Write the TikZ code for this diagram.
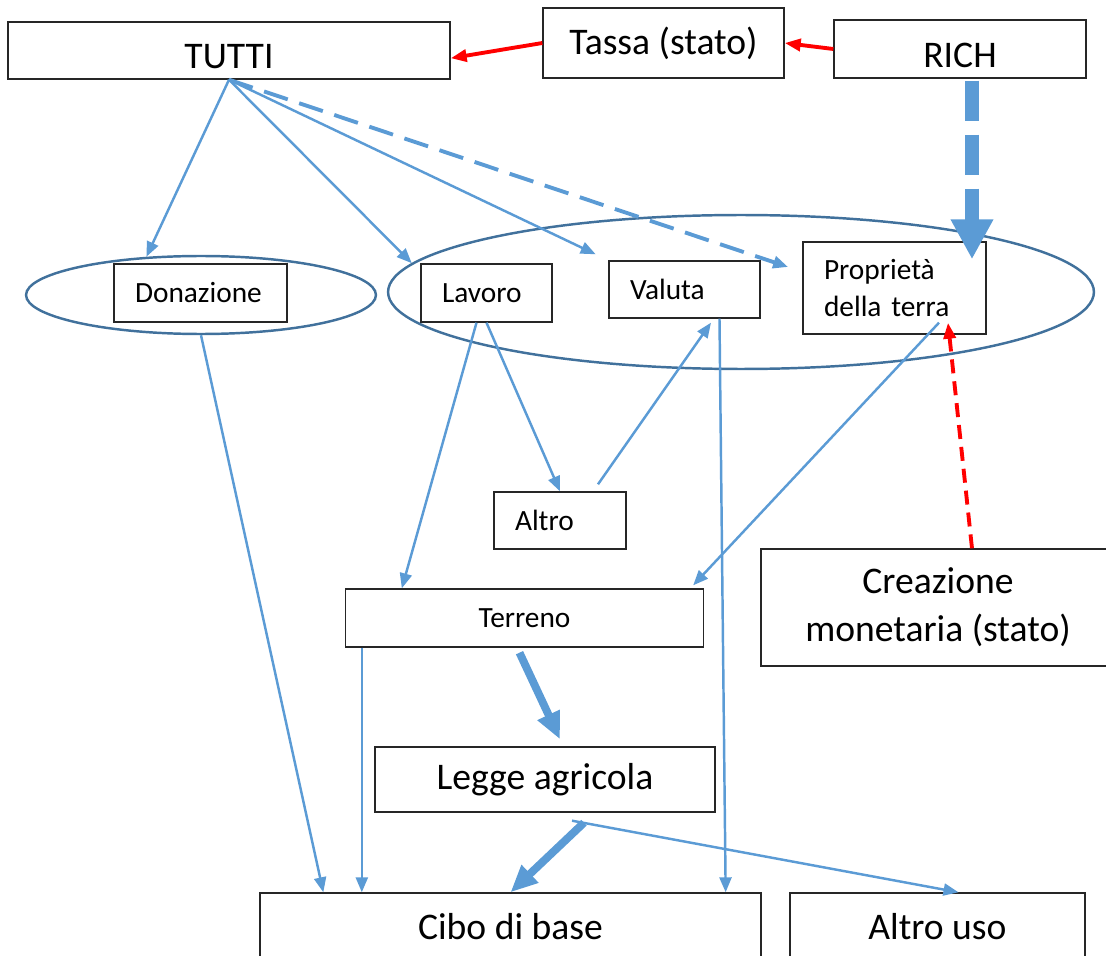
\documentclass[tikz,border=0pt]{standalone}
\usepackage{fontspec}
\setmainfont{Carlito}
\usetikzlibrary{arrows.meta,shapes.geometric}
\definecolor{flowblue}{RGB}{91,155,213}
\definecolor{ringblue}{RGB}{65,113,156}
\definecolor{flowred}{RGB}{255,0,0}

\begin{document}
\begin{tikzpicture}[x=0.02cm, y=-0.02cm,
    bigbox/.style={draw=black!85, line width=0.8pt, font=\fontsize{21.4}{27.3}\selectfont, align=center, inner sep=0pt},
    smallbox/.style={draw=black!85, line width=0.8pt, font=\fontsize{16.7}{21.6}\selectfont, align=left, inner xsep=0.42cm, inner ysep=0pt},
    lowtext/.style={text height=20.5pt, text depth=0pt},
    ring/.style={ellipse, draw=ringblue, line width=1.4pt, inner sep=0pt},
    flow/.style={draw=flowblue, line width=1.4pt, -{Triangle[length=0.3cm,width=0.24cm]}},
    flowdash/.style={flow, line width=2.2pt, dash pattern=on 0.5cm off 0.24cm},
    bigflow/.style={draw=flowblue, line width=4.5pt, -{Triangle[length=0.54cm,width=0.46cm]}},
    richflow/.style={draw=flowblue, line width=8pt, dash pattern=on 0.8cm off 0.28cm, -{Triangle[length=0.8cm,width=0.8cm]}},
    tax/.style={draw=flowred, line width=2.2pt, -{Triangle[length=0.32cm,width=0.24cm]}},
    taxdash/.style={tax, dash pattern=on 0.28cm off 0.16cm}]

    \useasboundingbox (0,0) rectangle (1106,956);

    % groups
    \node[ring, minimum width=7cm, minimum height=1.56cm] (grpdon) at (201,295) {};
    \node[ring, minimum width=14.12cm, minimum height=3.08cm] (grpbig) at (741,292) {};

    % top row
    \node[bigbox, lowtext, minimum width=8.84cm, minimum height=1.14cm] (tutti) at (229,50.5) {TUTTI};
    \node[bigbox, minimum width=4.82cm, minimum height=1.4cm] (tassa) at (663.5,43) {Tassa (stato)};
    \node[bigbox, lowtext, minimum width=5.04cm, minimum height=1.16cm] (rich) at (960,49) {RICH};

    % inside the groups
    \node[smallbox, text width=2.62cm, minimum height=1.16cm] (donaz) at (200.5,293) {Donazione};
    \node[smallbox, text width=1.78cm, minimum height=1.16cm] (lavoro) at (486.5,293) {Lavoro};
    \node[smallbox, text width=2.18cm, minimum height=1.14cm] (valuta) at (684.5,289.5) {Valuta};
    \node[smallbox, text width=2.82cm, minimum height=1.84cm] (prop) at (894.5,288) {Proprietà\\della terra};

    % middle
    \node[smallbox, text width=1.8cm, minimum height=1.14cm] (altro) at (560,520.5) {Altro};
    \node[smallbox, align=center, text width=6.32cm, minimum height=1.16cm] (terreno) at (524.5,618) {Terreno};
    \node[bigbox, minimum width=7.08cm, minimum height=2.34cm] (creaz) at (938,607.5) {Creazione\\monetaria (stato)};
    \node[bigbox, minimum width=6.8cm, minimum height=1.3cm] (legge) at (545,779.5) {Legge agricola};

    % bottom row
    \node[bigbox, minimum width=10.02cm, minimum height=1.34cm] (cibo) at (510.5,926.5) {Cibo di base};
    \node[bigbox, minimum width=5.9cm, minimum height=1.34cm] (altrouso) at (937.5,926.5) {Altro uso};

    % red flows
    \draw[tax] (tassa.west) -- (tutti.-2.5);
    \draw[tax] (rich.west) -- (tassa.east);
    \draw[taxdash] ([xshift=0.68cm]creaz.north) -- ([xshift=1.07cm, yshift=0.24cm]prop.south);

    % from TUTTI
    \foreach \t in {grpdon.145, grpbig.175}
        \draw[flow] (tutti.south) -- (\t);
    \draw[flow, shorten >=0.28cm] (tutti.south) -- (valuta.north west);
    \draw[flowdash, shorten >=0.3cm] (tutti.south) -- (prop.170);

    % from RICH
    \coordinate (richdrop) at ([xshift=0.24cm, yshift=-0.04cm]rich.south);
    \draw[richflow, shorten >=-0.36cm] (richdrop) -- (richdrop |- prop.north);

    % middle flows
    \draw[flow] ([xshift=-0.2cm]lavoro.south) -- ([xshift=1.14cm]terreno.north west);
    \draw[flow] (lavoro.south) -- (altro.north);
    \draw[flow] ([xshift=0.76cm, yshift=0.14cm]altro.north) -- ([xshift=0.53cm, yshift=-0.08cm]valuta.south);
    \draw[flow] ([xshift=0.89cm, yshift=0.24cm]prop.south) -- ([xshift=-0.22cm, yshift=0.06cm]terreno.north east);

    % down to the food
    \draw[flow] (grpdon.south) -- ([xshift=1.28cm]cibo.north west);
    \coordinate (terdrop) at ([xshift=0.34cm]terreno.south west);
    \draw[flow] (terdrop) -- (terdrop |- cibo.north);
    \draw[flow] ([xshift=0.7cm]valuta.south) -- ([xshift=-0.72cm]cibo.north east);
    \draw[bigflow] ([xshift=-0.1cm, yshift=-0.1cm]terreno.south) -- ([xshift=0.3cm, yshift=0.14cm]legge.north);
    \draw[bigflow] ([xshift=0.78cm, yshift=-0.2cm]legge.south) -- (cibo.north);
    \draw[flow] ([xshift=0.54cm, yshift=-0.16cm]legge.south) -- ([xshift=0.42cm]altrouso.north);

\end{tikzpicture}
\end{document}
